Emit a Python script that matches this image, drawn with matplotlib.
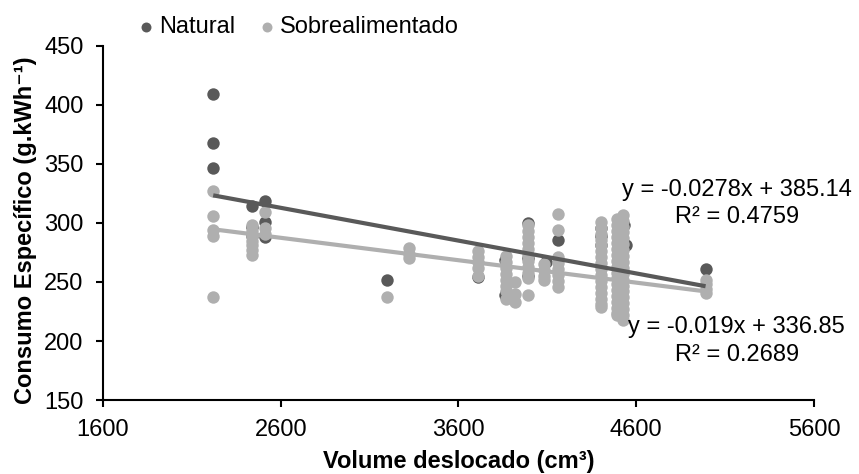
import numpy as np
import matplotlib
matplotlib.use("Agg")
import matplotlib.pyplot as plt

plt.rcParams['font.family'] = ['Liberation Sans', 'DejaVu Sans']

# consumo especifico (g/kWh) x cilindrada (cm3)
nat_x = [2220, 2220, 2220,
         2440, 2440, 2440,
         2510, 2510, 2510,
         3200,
         3712,
         3860, 3860,
         3990, 3990, 3990,
         4090,
         4160,
         4400, 4400, 4400,
         4530, 4540, 4500,
         4990]
nat_y = [409, 368, 347,
         314, 297, 289,
         319, 301, 288,
         252,
         254,
         269, 239,
         300, 255, 270,
         267,
         286,
         289, 281, 296,
         298, 281, 270,
         261]

sob_x = [2220, 2220, 2220, 2220, 2220,
         2440, 2440, 2440, 2440, 2440, 2440, 2440,
         2510, 2510, 2510,
         3200,
         3320, 3320, 3320,
         3710, 3710, 3710, 3710, 3710,
         3870, 3870, 3870, 3870, 3870, 3870, 3870, 3870,
         3920, 3920, 3920,
         3990, 3990, 3990, 3990, 3990, 3990, 3990, 3990, 3990, 3990, 3990,
         4080, 4080, 4080, 4080,
         4160, 4160, 4160, 4160, 4160, 4160, 4160, 4160,
         4400, 4400, 4400, 4400, 4400, 4400, 4400, 4400,
         4400, 4400, 4400, 4400, 4400, 4400, 4400, 4400,
         4490, 4490, 4490, 4490, 4490, 4490, 4490, 4490, 4490, 4490,
         4490, 4490, 4490, 4490, 4490, 4490, 4490, 4490,
         4525, 4525, 4525, 4525, 4525, 4525, 4525, 4525, 4525, 4525,
         4525, 4525, 4525, 4525, 4525, 4525, 4525, 4525, 4525,
         4990, 4990, 4990, 4990]
sob_y = [327, 306, 294, 289, 237,
         298, 293, 289, 285, 281, 277, 273,
         309, 296, 291,
         237,
         279, 274, 270,
         276, 271, 267, 262, 255,
         272, 267, 262, 257, 252, 247, 242, 236,
         233, 240, 250,
         298, 293, 288, 283, 278, 273, 268, 263, 258, 253, 239,
         265, 260, 255, 252,
         308, 294, 271, 266, 261, 256, 251, 246,
         301, 296, 291, 286, 281, 276, 271, 266,
         261, 256, 251, 246, 241, 236, 231, 229,
         303, 298, 293, 288, 283, 278, 273, 268, 263, 258,
         253, 248, 243, 238, 233, 228, 224, 222,
         307, 302, 297, 292, 287, 282, 277, 272, 267, 262,
         257, 252, 247, 242, 237, 232, 227, 222, 218,
         252, 248, 244, 241]

# linhas de tendencia (excel)
nat_a, nat_b, nat_r2 = -0.0278, 385.14, 0.4759
sob_a, sob_b, sob_r2 = -0.019, 336.85, 0.2689

c_nat = '#595959'
c_sob = '#afafaf'
fs = 17

fig = plt.figure(figsize=(8.59, 4.74), dpi=100)
ax = fig.add_axes([0.1199, 0.1561, 0.8277, 0.7469])

ax.scatter(nat_x, nat_y, s=80, color=c_nat, linewidths=0, label='Natural', zorder=2)
ax.scatter(sob_x, sob_y, s=80, color=c_sob, linewidths=0, label='Sobrealimentado', zorder=3)

xn = np.array([min(nat_x), max(nat_x)])
xs = np.array([min(sob_x), max(sob_x)])
ax.plot(xn, nat_a * xn + nat_b, color=c_nat, lw=3, zorder=4, solid_capstyle='butt')
ax.plot(xs, sob_a * xs + sob_b, color=c_sob, lw=3, zorder=4, solid_capstyle='butt')

ax.text(5166, 328, 'y = %.4fx + %.2f' % (nat_a, nat_b), ha='center', va='center', fontsize=fs)
ax.text(5166, 305, 'R² = %.4f' % nat_r2, ha='center', va='center', fontsize=fs)
ax.text(5166, 212, 'y = %.3fx + %.2f' % (sob_a, sob_b), ha='center', va='center', fontsize=fs)
ax.text(5166, 188, 'R² = %.4f' % sob_r2, ha='center', va='center', fontsize=fs)

ax.set_xlim(1600, 5600)
ax.set_ylim(150, 450)
ax.set_xticks(np.arange(1600, 5601, 1000))
ax.set_yticks(np.arange(150, 451, 50))
ax.tick_params(labelsize=fs, length=5, width=1.5, direction='out', pad=9)
for s in ['top', 'right']:
    ax.spines[s].set_visible(False)
for s in ['left', 'bottom']:
    ax.spines[s].set_linewidth(1.5)

ax.set_xlabel('Volume deslocado (cm³)', fontsize=fs, fontweight='bold')
ax.set_ylabel('Consumo Específico (g.kWh⁻¹)', fontsize=fs, fontweight='bold')
ax.xaxis.set_label_coords(0.5, -0.142)
ax.yaxis.set_label_coords(-0.093, 0.48)

leg = fig.legend(loc='center left', bbox_to_anchor=(0.163, 0.943), ncol=2, frameon=False,
                 fontsize=fs, markerscale=0.8, handlelength=0.5, handletextpad=0.3,
                 columnspacing=1.1, borderaxespad=0, borderpad=0)

fig.savefig('out.png', dpi=100)
